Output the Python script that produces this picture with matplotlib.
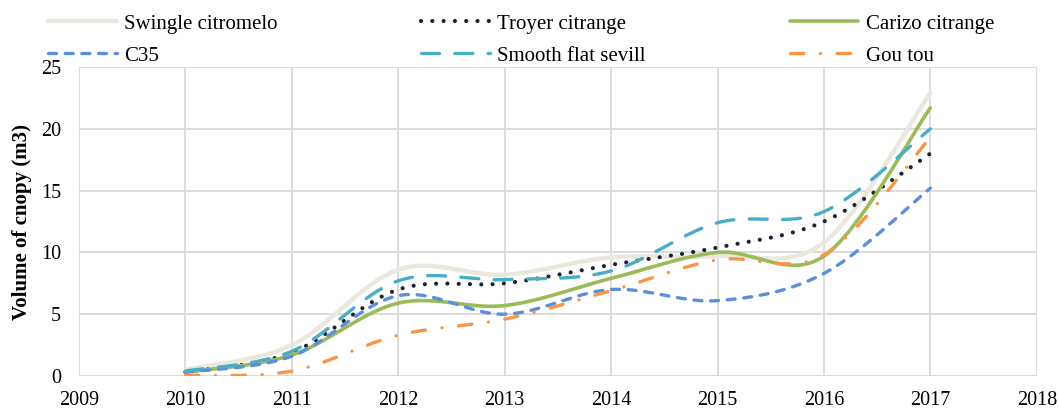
import numpy as np
import matplotlib
matplotlib.use("Agg")
import matplotlib.pyplot as plt

plt.rcParams['font.family'] = ['Liberation Serif', 'DejaVu Serif']

# data
years = [2010, 2011, 2012, 2013, 2014, 2015, 2016, 2017]
swingle = [0.5, 2.5, 8.6, 8.2, 9.6, 9.7, 10.8, 22.9]
troyer = [0.3, 1.9, 7.0, 7.5, 9.0, 10.4, 12.5, 18.0]
carizo = [0.3, 1.7, 5.9, 5.7, 7.9, 10.0, 9.7, 21.7]
c35 = [0.3, 1.6, 6.5, 5.0, 7.0, 6.1, 8.3, 15.2]
sevill = [0.4, 2.0, 7.7, 7.8, 8.5, 12.4, 13.3, 20.0]
goutou = [0.05, 0.4, 3.3, 4.6, 6.9, 9.4, 9.8, 19.3]

labels = ["Swingle citromelo", "Troyer citrange", "Carizo citrange",
          "C35", "Smooth flat sevill", "Gou tou"]
series = [swingle, troyer, carizo, c35, sevill, goutou]
colors = ["#EAE8DE", "#1B2233", "#9BBB59", "#5B8FDA", "#4BACC6", "#F79646"]
styles = ["-", (0, (0.01, 2.7)), "-", (0, (2.4, 2.6)), (0, (5.4, 4.6)),
          (0, (4.0, 5.0, 0.01, 5.0))]
widths = [3.2, 3.0, 2.6, 2.4, 2.4, 2.4]


def smooth(x, y, n=40):
    # excel-like smoothed line: cubic bezier through the points
    x = np.asarray(x, float)
    y = np.asarray(y, float)
    px = np.concatenate([[x[0]], x, [x[-1]]])
    py = np.concatenate([[y[0]], y, [y[-1]]])
    t = np.linspace(0, 1, n)[:, None]
    xs, ys = [], []
    for i in range(len(x) - 1):
        p0 = np.array([px[i + 1], py[i + 1]])
        p3 = np.array([px[i + 2], py[i + 2]])
        c1 = p0 + (p3 - np.array([px[i], py[i]])) / 6
        c2 = p3 - (np.array([px[i + 3], py[i + 3]]) - p0) / 6
        b = ((1 - t) ** 3) * p0 + 3 * ((1 - t) ** 2) * t * c1 + 3 * (1 - t) * t ** 2 * c2 + t ** 3 * p3
        xs.append(b[:, 0])
        ys.append(b[:, 1])
    return np.concatenate(xs), np.concatenate(ys)


fig = plt.figure(figsize=(10.59, 4.09), dpi=100)
ax = fig.add_axes([0.0746, 0.0807, 0.9044, 0.7553])

handles = {}
for lab, vals, c, ls, lw in zip(labels, series, colors, styles, widths):
    sx, sy = smooth(years, vals)
    line, = ax.plot(sx, sy, color=c, linestyle=ls, linewidth=lw,
                    dash_capstyle='round', solid_capstyle='round', label=lab)
    handles[lab] = line

ax.set_xlim(2009, 2018)
ax.set_ylim(0, 25)
ax.set_xticks(range(2009, 2019))
ax.set_yticks(range(0, 26, 5))
ax.grid(True, color="#D9D9D9", linewidth=1.3)
ax.set_axisbelow(True)
for s in ax.spines.values():
    s.set_visible(False)
ax.tick_params(length=0, labelsize=14.5, colors="black")
ax.tick_params(axis='y', pad=13)
ax.tick_params(axis='x', pad=11)
ax.set_ylabel("Volume of cnopy (m3)", fontsize=15, fontweight='bold', labelpad=6)

# legend, row-wise order
order = ["Swingle citromelo", "C35", "Troyer citrange", "Smooth flat sevill",
         "Carizo citrange", "Gou tou"]
fig.legend([handles[k] for k in order], order, loc='upper left',
           bbox_to_anchor=(48 / 1059, 1 - 14 / 409), ncol=3, frameon=False,
           fontsize=15, handlelength=3.3, handletextpad=0.35,
           columnspacing=6.9, labelspacing=0.6, borderpad=0, borderaxespad=0)

fig.savefig("out.png", dpi=100)
